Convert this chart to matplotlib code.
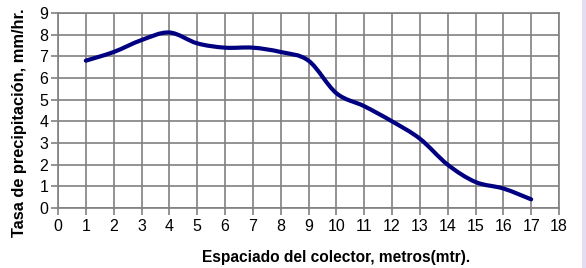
import matplotlib.pyplot as plt
from matplotlib.path import Path
from matplotlib.patches import PathPatch, Rectangle
import numpy as np

plt.rcParams['font.family'] = ['Liberation Sans', 'DejaVu Sans']

# Espaciado (m) vs tasa de precipitacion (mm/hr)
spacing = [1, 2, 3, 4, 5, 6, 7, 8, 9, 10, 11, 12, 13, 14, 15, 16, 17]
rate = [6.8, 7.2, 7.75, 8.1, 7.6, 7.4, 7.4, 7.2, 6.8, 5.3, 4.7, 4.0, 3.2, 2.0, 1.2, 0.9, 0.4]

x_ticks = list(range(0, 19))
y_ticks = list(range(0, 10))

GRID = '#808080'
LINE = '#000080'


def smooth_path(xs, ys, tension=1 / 6):
	# Excel style smoothed line: cubic bezier segments through every point
	xs = np.asarray(xs, float)
	ys = np.asarray(ys, float)
	n = len(xs)
	verts = [(xs[0], ys[0])]
	codes = [Path.MOVETO]
	for i in range(n - 1):
		p0 = i - 1 if i > 0 else i
		p3 = i + 2 if i + 2 < n else i + 1
		c1 = (xs[i] + (xs[i + 1] - xs[p0]) * tension, ys[i] + (ys[i + 1] - ys[p0]) * tension)
		c2 = (xs[i + 1] - (xs[p3] - xs[i]) * tension, ys[i + 1] - (ys[p3] - ys[i]) * tension)
		verts += [c1, c2, (xs[i + 1], ys[i + 1])]
		codes += [Path.CURVE4] * 3
	return Path(verts, codes)


fig = plt.figure(figsize=(5.86, 2.68), dpi=100)
ax = fig.add_axes([58 / 586, 1 - 208 / 268, (559 - 58) / 586, (208 - 13) / 268])

ax.add_patch(PathPatch(smooth_path(spacing, rate), facecolor='none', edgecolor=LINE,
	linewidth=3.0, capstyle='round', joinstyle='round', zorder=3))

ax.set_xlim(0, 18)
ax.set_ylim(0, 9)
ax.set_xticks(x_ticks)
ax.set_yticks(y_ticks)
ax.grid(True, color=GRID, linewidth=1.2)
ax.set_axisbelow(True)
for s in ax.spines.values():
	s.set_color(GRID)
	s.set_linewidth(1.2)
ax.tick_params(axis='both', color=GRID, width=1.2, length=5, labelsize=11.5)
ax.tick_params(axis='x', pad=3)
ax.tick_params(axis='y', pad=2)

ax.set_xlabel('Espaciado del colector, metros(mtr).', fontsize=11.2, fontweight='bold')
ax.set_ylabel('Tasa de precipitación, mm/hr.', fontsize=11.8, fontweight='bold')
ax.xaxis.set_label_coords(336 / 586, 6 / 268, transform=fig.transFigure)
ax.xaxis.label.set_va('baseline')
ax.yaxis.set_label_coords(27 / 586, 1 - 123 / 268, transform=fig.transFigure)

fig.patches.append(Rectangle((582 / 586, 0), 4 / 586, 1, transform=fig.transFigure,
	facecolor='#e6dcf5', edgecolor='none'))

fig.savefig('out.png', dpi=100)
